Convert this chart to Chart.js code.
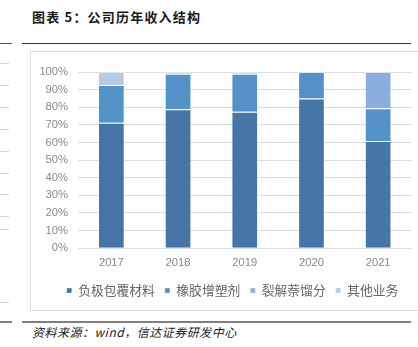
<!DOCTYPE html>
<html>
<head>
<meta charset="utf-8">
<script src="https://cdn.jsdelivr.net/npm/chart.js@4.4.1/dist/chart.umd.min.js"></script>
<style>
  html, body { margin: 0; padding: 0; background: #fff; }
  body { width: 418px; height: 347px; position: relative; overflow: hidden; font-family: "Noto Sans CJK SC", sans-serif; }
  #title { position: absolute; left: 32px; top: 7px; font-size: 13px; font-weight: 700; letter-spacing: 1.2px; color: #1a1a1a; line-height: 20px; white-space: nowrap; }
  .rule { position: absolute; }
  #frame { position: absolute; left: 30px; top: 51px; width: 400px; height: 260px; border: 1px solid #dedede; box-sizing: border-box; }
  #source { position: absolute; left: 32px; top: 323px; font-size: 12px; font-style: italic; letter-spacing: 0.5px; color: #222; line-height: 18px; white-space: nowrap; }
  .edge { position: absolute; left: 0; width: 9px; height: 1px; background: #d4d4d4; }
  canvas#chart { position: absolute; left: 0; top: 0; }
</style>
</head>
<body>
<div id="title">图表 5：公司历年收入结构</div>
<div class="rule" style="left:22px; top:43px; width:389px; height:1px; background:#333;"></div>
<div class="rule" style="left:0; top:43px; width:12px; height:1px; background:#555;"></div>
<div id="frame"></div>
<div class="rule" style="left:22px; top:321px; width:389px; height:2px; background:#808080;"></div>
<div class="rule" style="left:0; top:321px; width:12px; height:2px; background:#808080;"></div>
<div class="edge" style="top:63px"></div>
<div class="edge" style="top:85px"></div>
<div class="edge" style="top:107px"></div>
<div class="edge" style="top:129px"></div>
<div class="edge" style="top:151px"></div>
<div class="edge" style="top:173px"></div>
<div class="edge" style="top:194px"></div>
<div class="edge" style="top:216px"></div>
<div class="edge" style="top:229px"></div>
<div class="edge" style="top:302px"></div>
<div id="source">资料来源：wind，信达证券研发中心</div>
<canvas id="chart" width="418" height="347"></canvas>
<script>
// Revenue mix by year (share of total revenue, %)
const years = ['2017', '2018', '2019', '2020', '2021'];
const anodeCoating = [71.2, 78.8, 77.4, 85.0, 60.8];   // 负极包覆材料
const rubberPlasticizer = [21.4, 20.2, 21.6, 15.0, 18.6]; // 橡胶增塑剂
const naphthaleneCut = [0, 0, 0, 0, 20.6];             // 裂解萘馏分
const otherBusiness = [7.4, 1.0, 1.0, 0, 0];           // 其他业务
const yTicks = [0, 10, 20, 30, 40, 50, 60, 70, 80, 90, 100];

const seriesNames = ['负极包覆材料', '橡胶增塑剂', '裂解萘馏分', '其他业务'];
const seriesData = [anodeCoating, rubberPlasticizer, naphthaleneCut, otherBusiness];
const seriesColors = ['#4676a8', '#5391c9', '#8aafdf', '#b6cbe8'];

const datasets = seriesNames.map((name, i) => ({
  label: name,
  data: seriesData[i],
  backgroundColor: seriesColors[i],
  borderColor: 'rgba(255,255,255,0.25)',
  borderWidth: 1,
  categoryPercentage: 1.0,
  barPercentage: 0.4
}));

const tickColor = '#8a8a8a';
const tickFont = { family: '"Liberation Sans", Arial, sans-serif', size: 11.2 };

// Centre the legend row a little right of the canvas centre, under the plot.
const legendShift = {
  id: 'legendShift',
  afterLayout(chart) {
    const lg = chart.legend;
    if (lg) { lg.left += 23.5; lg.width = lg.right - lg.left; }
  }
};

new Chart(document.getElementById('chart'), {
  type: 'bar',
  data: { labels: years, datasets },
  plugins: [legendShift],
  options: {
    responsive: false,
    animation: false,
    layout: { padding: { left: 30, right: 6.5, top: 72, bottom: 40 } },
    plugins: {
      tooltip: { enabled: false },
      legend: {
        position: 'bottom',
        labels: {
          boxWidth: 5,
          boxHeight: 5,
          padding: 10,
          color: '#666',
          font: { family: '"Noto Sans CJK SC", sans-serif', size: 12.8 }
        }
      }
    },
    scales: {
      x: {
        stacked: true,
        grid: { display: false, drawTicks: false },
        border: { display: false },
        ticks: { color: tickColor, font: tickFont, padding: 8 },
        afterFit: s => { s.height = 26; }
      },
      y: {
        stacked: true,
        min: 0,
        max: 100,
        afterBuildTicks: s => { s.ticks = yTicks.map(v => ({ value: v })); },
        grid: { color: '#dcdcdc', lineWidth: 1, drawTicks: false },
        border: { display: false },
        ticks: { color: tickColor, font: tickFont, padding: 10, callback: v => v + '%' },
        afterFit: s => { s.width = 48; }
      }
    }
  }
});
</script>
</body>
</html>
